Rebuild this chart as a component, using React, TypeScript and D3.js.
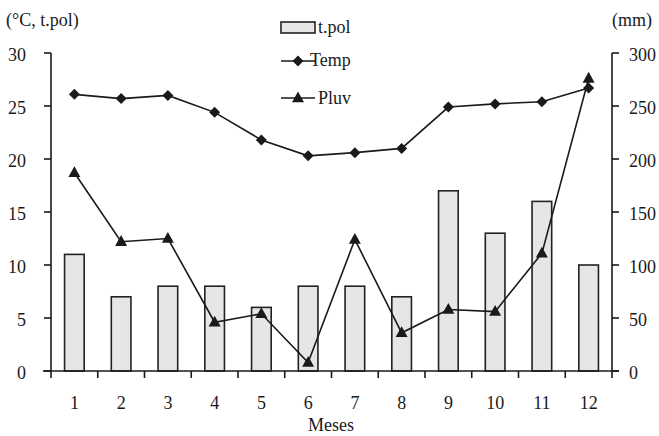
import React from "react";
import * as d3 from "d3";

const months = ["1","2","3","4","5","6","7","8","9","10","11","12"];
const tpol = [11, 7, 8, 8, 6, 8, 8, 7, 17, 13, 16, 10];
const temp = [26.1, 25.7, 26.0, 24.4, 21.8, 20.3, 20.6, 21.0, 24.9, 25.2, 25.4, 26.7];
const pluv = [187, 122, 125, 46, 54, 8, 124, 36, 58, 56, 111, 276];
const leftTicks = [0, 5, 10, 15, 20, 25, 30];
const rightTicks = [0, 50, 100, 150, 200, 250, 300];

const W = 659, H = 436;
const L = 51, R = 612, T = 53, B = 371;
const font = "Liberation Serif, Times New Roman, Times, DejaVu Serif, serif";
const ink = "#1a1a1a";

export default function App() {
  const x = d3.scaleBand<string>().domain(months).range([L, R]).paddingInner(0).paddingOuter(0);
  const yL = d3.scaleLinear().domain([0, 30]).range([B, T]);
  const yR = d3.scaleLinear().domain([0, 300]).range([B, T]);
  const cx = (m: string) => (x(m) as number) + x.bandwidth() / 2;
  const bw = x.bandwidth() * 0.42;

  const tempLine = d3.line<number>().x((_, i) => cx(months[i])).y((d) => yL(d));
  const pluvLine = d3.line<number>().x((_, i) => cx(months[i])).y((d) => yR(d));

  const diamond = (px: number, py: number, s = 5.5) =>
    `M${px},${py - s}L${px + s},${py}L${px},${py + s}L${px - s},${py}Z`;
  const tri = (px: number, py: number, s = 6) =>
    `M${px},${py - s * 1.1}L${px + s},${py + s * 0.7}L${px - s},${py + s * 0.7}Z`;

  const ts = { fontFamily: font, fontSize: 18 } as React.CSSProperties;

  return (
    <svg width={W} height={H} style={{ position: "absolute", left: 0, top: 0, background: "#fff", fontFamily: font }}>
      {/* bars */}
      {tpol.map((v, i) => (
        <rect key={i} x={cx(months[i]) - bw / 2} y={yL(v)} width={bw} height={B - yL(v)}
          fill="#e6e6e6" stroke="#222" strokeWidth={1.6} />
      ))}
      {/* axes */}
      <line x1={L} x2={L} y1={T} y2={B} stroke={ink} strokeWidth={1.6} />
      <line x1={R} x2={R} y1={T} y2={B} stroke={ink} strokeWidth={1.6} />
      <line x1={L - 8} x2={R + 7} y1={B} y2={B} stroke={ink} strokeWidth={1.6} />
      {leftTicks.map((t) => (
        <g key={"l" + t}>
          <line x1={L - 7} x2={L} y1={yL(t)} y2={yL(t)} stroke={ink} strokeWidth={1.6} />
          <text x={26} y={yL(t) + 8} textAnchor="end" style={ts} fill={ink}>{t}</text>
        </g>
      ))}
      {rightTicks.map((t) => (
        <g key={"r" + t}>
          <line x1={R} x2={R + 7} y1={yR(t)} y2={yR(t)} stroke={ink} strokeWidth={1.6} />
          <text x={629} y={yR(t) + 8} textAnchor="start" style={ts} fill={ink}>{t}</text>
        </g>
      ))}
      {d3.range(13).map((i) => {
        const px = L + i * x.bandwidth();
        return <line key={"b" + i} x1={px} x2={px} y1={B} y2={B + 7} stroke={ink} strokeWidth={1.6} />;
      })}
      {months.map((m) => (
        <text key={"m" + m} x={cx(m)} y={409} textAnchor="middle" style={ts} fill={ink}>{m}</text>
      ))}
      <text x={331} y={431} textAnchor="middle" style={ts} fill={ink}>Meses</text>
      <text x={6} y={26} style={ts} fill={ink}>(°C, t.pol)</text>
      <text x={612} y={26} style={ts} fill={ink}>(mm)</text>

      {/* lines */}
      <path d={tempLine(temp) as string} fill="none" stroke={ink} strokeWidth={1.6} />
      {temp.map((v, i) => <path key={"td" + i} d={diamond(cx(months[i]), yL(v))} fill={ink} />)}
      <path d={pluvLine(pluv) as string} fill="none" stroke={ink} strokeWidth={1.6} />
      {pluv.map((v, i) => <path key={"pt" + i} d={tri(cx(months[i]), yR(v))} fill={ink} />)}

      {/* legend */}
      <rect x={281} y={22} width={34} height={11} fill="#e6e6e6" stroke="#222" strokeWidth={1.6} />
      <text x={318} y={33} style={ts} fill={ink}>t.pol</text>
      <line x1={281} x2={315} y1={61} y2={61} stroke={ink} strokeWidth={1.6} />
      <path d={diamond(298, 61)} fill={ink} />
      <text x={310} y={66} style={ts} fill={ink}>Temp</text>
      <line x1={281} x2={315} y1={98} y2={98} stroke={ink} strokeWidth={1.6} />
      <path d={tri(298, 98)} fill={ink} />
      <text x={318} y={104} style={ts} fill={ink}>Pluv</text>
    </svg>
  );
}
